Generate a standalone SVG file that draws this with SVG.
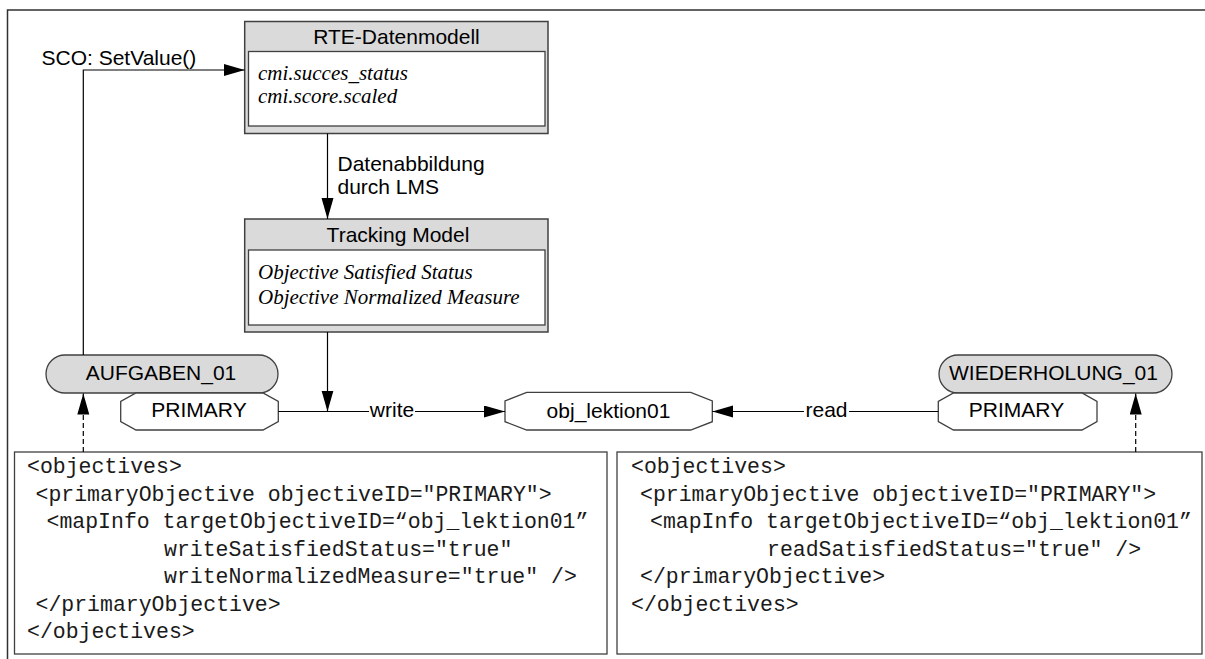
<svg xmlns="http://www.w3.org/2000/svg" width="1205" height="659" viewBox="0 0 1205 659">
<defs>
<style>
.lbl{font-family:"Liberation Sans",Arial,sans-serif;font-size:21px;fill:#000}
.fld{font-family:"Liberation Serif","Times New Roman",serif;font-size:21px;font-style:italic;fill:#000}
.code{font-family:"Liberation Mono","Courier New",monospace;font-size:21.5px;fill:#1a1a1a;white-space:pre}
.hdr{fill:#dadada;stroke:#404040;stroke-width:1.5}
.inner{fill:#fff;stroke:#404040;stroke-width:1.3}
.pill{fill:#dadada;stroke:#404040;stroke-width:1.3}
.oct{fill:#fff;stroke:#404040;stroke-width:1.3}
.box{fill:#fff;stroke:#404040;stroke-width:1.3}
.ln{fill:none;stroke:#000;stroke-width:1.2}
.dash{fill:none;stroke:#000;stroke-width:1.2;stroke-dasharray:5,3}
</style>
<marker id="ah" markerUnits="userSpaceOnUse" markerWidth="22" markerHeight="13" refX="21" refY="6" orient="auto">
<path d="M0,0 L21,6 L0,12 z" fill="#000"/>
</marker>
</defs>
<rect width="1205" height="659" fill="#fff"/>
<g id="frame">
<path d="M7.5,659 V10 H1205" fill="none" stroke="#303030" stroke-width="1.5"/>
</g>
<g id="rte">
<rect class="hdr" x="244.7" y="21.5" width="303.3" height="112"/>
<rect class="inner" x="248.5" y="51.5" width="296.5" height="74.5"/>
<text class="lbl" x="396.5" y="43.5" text-anchor="middle">RTE-Datenmodell</text>
<text class="fld" x="258" y="80">cmi.succes_status</text>
<text class="fld" x="258" y="103">cmi.score.scaled</text>
</g>
<g id="tracking">
<rect class="hdr" x="244.7" y="219" width="303.3" height="113"/>
<rect class="inner" x="248.5" y="250" width="296.5" height="75"/>
<text class="lbl" x="398" y="241.5" text-anchor="middle">Tracking Model</text>
<text class="fld" x="258" y="279">Objective Satisfied Status</text>
<text class="fld" x="258" y="304">Objective Normalized Measure</text>
</g>
<g id="aufgaben">
<rect class="pill" x="46" y="355" width="232" height="38" rx="19" ry="19"/>
<text class="lbl" x="161" y="380" text-anchor="middle">AUFGABEN_01</text>
<polygon class="oct" points="136,393 263,393 278.3,401.5 278.3,421.5 263,430 136,430 120.7,421.5 120.7,401.5"/>
<text class="lbl" x="199" y="417" text-anchor="middle">PRIMARY</text>
</g>
<g id="obj">
<polygon class="oct" points="526.7,392.3 690.7,392.3 712.3,401 712.3,421.7 690.7,430 526.7,430 505,421.7 505,401"/>
<text class="lbl" x="608.5" y="418.3" text-anchor="middle">obj_lektion01</text>
</g>
<g id="wiederholung">
<rect class="pill" x="939" y="355" width="233" height="38" rx="19" ry="19"/>
<text class="lbl" x="1053.5" y="380" text-anchor="middle">WIEDERHOLUNG_01</text>
<polygon class="oct" points="953.5,393 1082,393 1097,401.5 1097,421.5 1082,430 953.5,430 938.3,421.5 938.3,401.5"/>
<text class="lbl" x="1016.5" y="417" text-anchor="middle">PRIMARY</text>
</g>
<g id="code-left">
<rect class="box" x="14.5" y="452" width="592.5" height="202"/>
<text class="code" x="27" y="473">&lt;objectives&gt;</text>
<text class="code" x="35.5" y="500.5">&lt;primaryObjective objectiveID="PRIMARY"&gt;</text>
<text class="code" x="46.5" y="528">&lt;mapInfo targetObjectiveID=“obj_lektion01”</text>
<text class="code" x="164" y="555.5">writeSatisfiedStatus="true"</text>
<text class="code" x="164" y="583">writeNormalizedMeasure="true" /&gt;</text>
<text class="code" x="35.5" y="610.5">&lt;/primaryObjective&gt;</text>
<text class="code" x="27" y="638">&lt;/objectives&gt;</text>
</g>
<g id="code-right">
<rect class="box" x="617" y="452" width="585" height="202"/>
<text class="code" x="631" y="473">&lt;objectives&gt;</text>
<text class="code" x="640" y="500.5">&lt;primaryObjective objectiveID="PRIMARY"&gt;</text>
<text class="code" x="650" y="528">&lt;mapInfo targetObjectiveID=“obj_lektion01”</text>
<text class="code" x="767" y="555.5">readSatisfiedStatus="true" /&gt;</text>
<text class="code" x="640" y="583">&lt;/primaryObjective&gt;</text>
<text class="code" x="631" y="610.5">&lt;/objectives&gt;</text>
</g>
<g id="connectors">
<path class="ln" d="M83.3,355 V70 H244.7" marker-end="url(#ah)"/>
<text class="lbl" x="41.5" y="65">SCO: SetValue()</text>
<path class="ln" d="M327.5,133.5 V219" marker-end="url(#ah)"/>
<text class="lbl" x="337.5" y="170.5">Datenabbildung</text>
<text class="lbl" x="337.5" y="193.5">durch LMS</text>
<path class="ln" d="M327.5,332 V411.5" marker-end="url(#ah)"/>
<path class="ln" d="M278.3,411.5 H505" marker-end="url(#ah)"/>
<rect x="369" y="399" width="46" height="22" fill="#fff"/>
<text class="lbl" x="392" y="417.3" text-anchor="middle">write</text>
<path class="ln" d="M938.3,411.5 H712.3" marker-end="url(#ah)"/>
<rect x="804" y="399" width="45" height="22" fill="#fff"/>
<text class="lbl" x="826.5" y="417.3" text-anchor="middle">read</text>
<path class="dash" d="M83.3,452 V393.5" marker-end="url(#ah)"/>
<path class="dash" d="M1135.7,452 V393.5" marker-end="url(#ah)"/>
</g>
</svg>
